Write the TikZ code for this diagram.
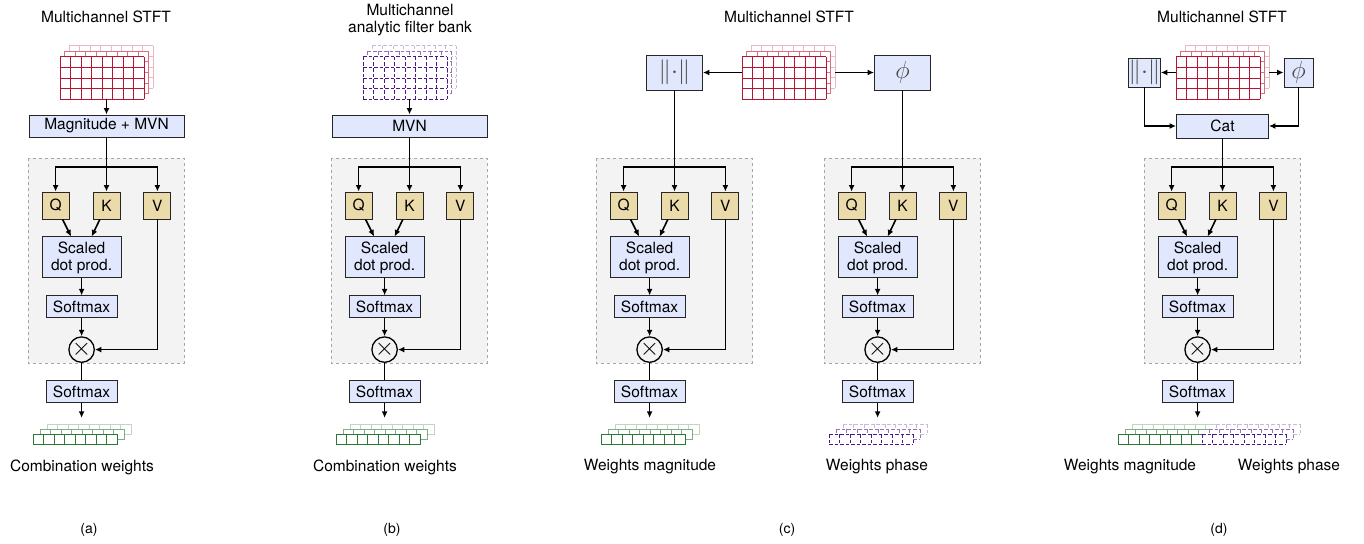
\documentclass[tikz,border=0pt]{standalone}
\usepackage{fontspec}
\setmainfont{TeX Gyre Heros}
\usetikzlibrary{positioning,arrows.meta}

\definecolor{boxblue}{RGB}{225,231,253}
\definecolor{qkvtan}{RGB}{235,218,170}
\definecolor{bggray}{RGB}{243,243,243}
\definecolor{stftred}{RGB}{185,20,50}
\definecolor{wgreen}{RGB}{45,120,55}
\definecolor{fbpurple}{RGB}{75,25,135}

\tikzset{
  fbdash/.style={dash pattern=on 3.5pt off 2pt},
  % stack of 3 layers of cells: colour, line style, rows, layer dx, layer dy
  pics/cells/.style n args={5}{code={
    \foreach \l/\o in {2/0.3,1/0.6,0/1} {
      \begin{scope}[shift={(#4*\l,-#5*\l)}]
        \fill[white] (0,0) rectangle (84,#3*10.5);
        \draw[#1, #2, draw opacity=\o, line width=1pt]
          \foreach \i in {0,...,8} {(\i*10.5,0) -- (\i*10.5,#3*10.5)}
          \foreach \j in {0,...,#3} {(0,\j*10.5) -- (84,\j*10.5)};
      \end{scope}}
    \node[inner sep=0pt, minimum width=84pt, minimum height=#3*10.5pt] (-front) at (42,#3*5.25) {};
    \coordinate (-right) at (84+2*#4,#3*5.25);
  }}
}

\begin{document}
\begin{tikzpicture}[x=1pt, y=-1pt,
    every node/.style={font=\fontsize{15.5}{17}\selectfont},
    box/.style={draw=black!85, fill=boxblue, line width=0.9pt, inner sep=1pt, minimum height=22pt},
    qkv/.style={draw=black!85, fill=qkvtan, line width=0.9pt, minimum size=27pt, inner sep=0pt},
    symbox/.style={box, font=\fontsize{24}{24}\selectfont, text=black!70},
    mul/.style={draw, circle, line width=1.3pt, minimum size=24pt, inner sep=0pt, font=\fontsize{24}{24}\selectfont},
    bgbox/.style={fill=bggray, draw=black!35, line width=1pt, dash pattern=on 3pt off 3pt},
    conn/.style={line width=1.6pt},
    arr/.style={conn, -{Latex[length=6.5pt,width=6pt]}},
    capt/.style={font=\fontsize{14}{16}\selectfont}]
  \useasboundingbox (0,0) rectangle (1364,543);

  % attention blocks
  \foreach \p/\s in {a/0, b/303, cm/568, cp/796, d/1116} {
    \begin{scope}[xshift=\s pt]
      \draw[bgbox] (28,158) rectangle (184,363);
      \coordinate (br\p) at (106.5,167);
      \node[qkv] (k\p) at (106.5,205.5) {K};
      \node[qkv, left=23pt of k\p] (q\p) {Q};
      \node[qkv, right=23pt of k\p] (v\p) {V};
      \node[box, align=center, minimum width=79pt, minimum height=41pt, anchor=north west,
            below right=17pt and 0pt of q\p.south west] (sdp\p) {Scaled\\dot prod.};
      \node[box, minimum width=71pt, below=17pt of sdp\p] (sm\p) {Softmax};
      \node[mul, below=18pt of sm\p] (mul\p) {$\times$};
      \node[box, minimum width=71pt, below=17pt of mul\p] (smo\p) {Softmax};
      \coordinate[below=15pt of smo\p] (out\p);

      \draw[arr] (br\p) -| (q\p);
      \draw[arr] (br\p) -- (k\p);
      \draw[arr] (br\p) -| (v\p);
      \draw[arr] (q\p) -- (sdp\p);
      \draw[arr] (k\p) -- (sdp\p);
      \draw[arr] (sdp\p) -- (sm\p);
      \draw[arr] (sm\p) -- (mul\p);
      \draw[arr] (v\p) |- (mul\p);
      \draw[conn] (mul\p) -- (smo\p);
      \draw[arr] (smo\p) -- (out\p);
    \end{scope}
  }

  % (a)
  \node (tla) at (106,17) {Multichannel STFT};
  \pic (sa) at (60,57) {cells={stftred}{solid}{4}{4.5}{5.5}};
  \node[box, minimum width=155pt] (mvna) at (106.5,126) {Magnitude + MVN};
  \draw[arr] (sa-front.south -| mvna.north) -- (mvna);
  \draw[conn] (mvna) -- (bra);
  \pic (wa) at (33,434) {cells={wgreen}{solid}{1}{7}{5}};
  \node (la) at (82,467) {Combination weights};
  \node[capt] (capa) at (89,530) {(a)};

  % (b)
  \node[align=center] (tlb) at (410,20.5) {Multichannel\\analytic filter bank};
  \pic (sb) at (363,57) {cells={fbpurple}{fbdash}{4}{4.5}{5.5}};
  \node[box, minimum width=155pt] (mvnb) at (409.5,126) {MVN};
  \draw[arr] (sb-front.south -| mvnb.north) -- (mvnb);
  \draw[conn] (mvnb) -- (brb);
  \pic (wb) at (336,434) {cells={wgreen}{solid}{1}{7}{5}};
  \node (lb) at (385,467) {Combination weights};
  \node[capt] (capb) at (392,530) {(b)};

  % (c)
  \node (tlc) at (789,17) {Multichannel STFT};
  \pic (sc) at (742,57) {cells={stftred}{solid}{4}{4.5}{5.5}};
  \node[symbox, minimum width=56pt, minimum height=35pt] (magc) at (674.5,72.5) {$\|{\cdot}\|$};
  \node[symbox, minimum width=56pt, minimum height=35pt] (phic) at (902.5,72.5) {$\phi$};
  \draw[arr] (sc-front.west |- magc.east) -- (magc);
  \draw[arr] (sc-right |- phic.west) -- (phic);
  \draw[conn] (magc) -- (brcm);
  \draw[conn] (phic) -- (brcp);
  \pic (wcm) at (601,434) {cells={wgreen}{solid}{1}{7}{5}};
  \pic (wcp) at (829,434) {cells={fbpurple}{fbdash}{1}{7}{5}};
  \node (lcm) at (650,467) {Weights magnitude};
  \node (lcp) at (877,467) {Weights phase};
  \node[capt] (capc) at (787,530) {(c)};

  % (d)
  \node (tld) at (1222,17) {Multichannel STFT};
  \pic (sd) at (1176,57) {cells={stftred}{solid}{4}{4.5}{5.5}};
  \node[symbox, minimum size=29pt, inner sep=0pt] (magd) at (1144.5,72.5) {$\|{\cdot}\|$};
  \node[symbox, minimum size=29pt, inner sep=0pt] (phid) at (1298.5,72.5) {$\phi$};
  \node[box, minimum width=92pt, minimum height=24pt] (catd) at (1222.5,126) {Cat};
  \draw[arr] (sd-front.west |- magd.east) -- (magd);
  \draw[arr] (sd-right |- phid.west) -- (phid);
  \draw[arr] (magd) |- (catd);
  \draw[arr] (phid) |- (catd);
  \draw[conn] (catd) -- (brd);
  \pic (wdm) at (1118,434) {cells={wgreen}{solid}{1}{7}{5}};
  \pic (wdp) at (1202,434) {cells={fbpurple}{fbdash}{1}{7}{5}};
  \node (ldm) at (1130,467) {Weights magnitude};
  \node (ldp) at (1289,467) {Weights phase};
  \node[capt] (capd) at (1219,530) {(d)};
\end{tikzpicture}
\end{document}
